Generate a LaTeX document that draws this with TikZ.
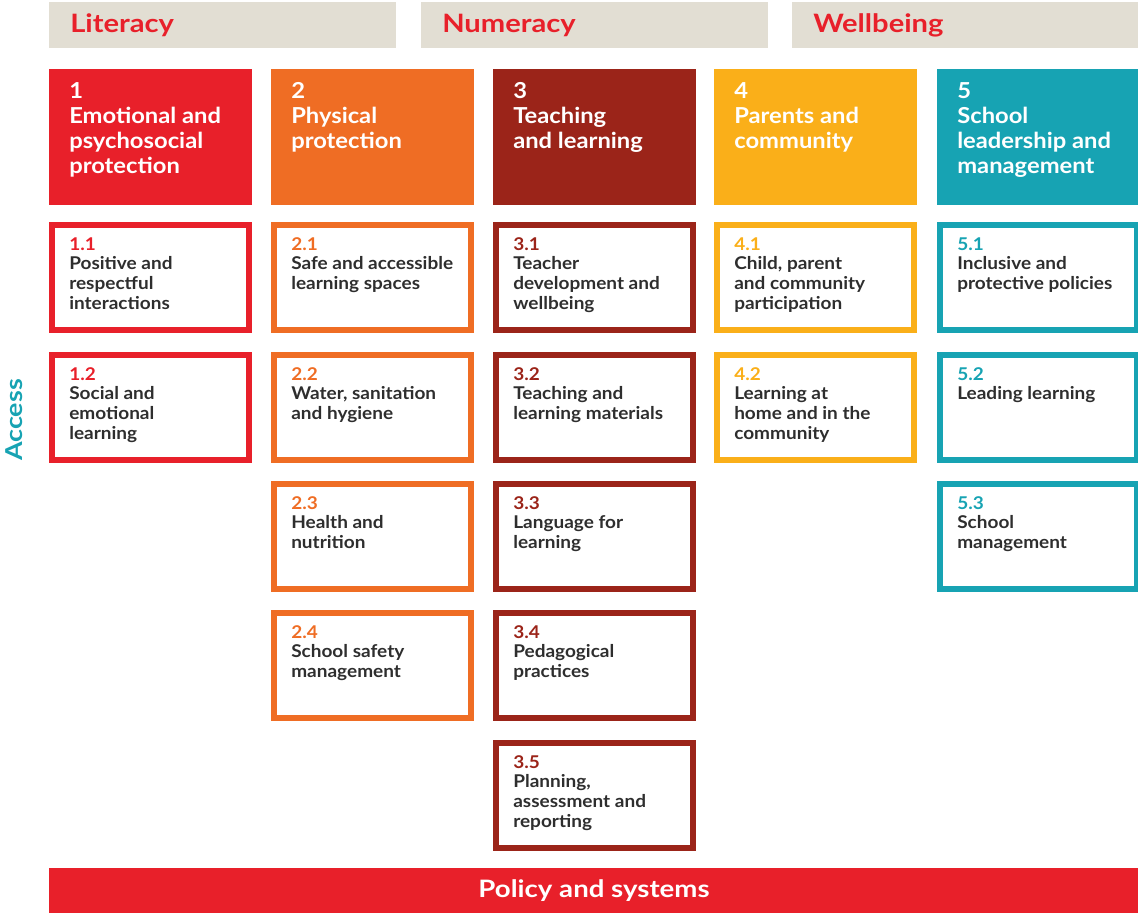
\documentclass[tikz,border=0pt]{standalone}
\usepackage{fontspec}
\setmainfont{Lato}[FakeStretch=1.08]
\newfontfamily\widefont{Lato}[FakeStretch=1.15]
\definecolor{colred}{HTML}{E8202A}
\definecolor{colorange}{HTML}{EF6D24}
\definecolor{coldark}{HTML}{9B2419}
\definecolor{colamber}{HTML}{FAAF19}
\definecolor{colteal}{HTML}{17A3B3}
\definecolor{colgray}{HTML}{E2DED3}
\definecolor{coltext}{HTML}{2E2E2E}
\newcommand{\headtext}[2]{\parbox[t]{150pt}{\raggedright\fontsize{16.5}{18.75}\selectfont #1\\#2}}
\newcommand{\subtext}[3]{\parbox[t]{150pt}{\raggedright\fontsize{13.2}{14.8}\selectfont\textcolor{#1}{#2}\\#3}}

\begin{document}
\begin{tikzpicture}[x=0.75pt,y=0.75pt,yscale=-1,xscale=1,
  frame/.style={line width=4.5pt},
  toplabel/.style={anchor=base west,inner sep=0pt,text=colred,font=\widefont\bfseries\fontsize{19}{22}\selectfont},
  headlabel/.style={anchor=base west,inner sep=0pt,text=white,font=\bfseries},
  sublabel/.style={anchor=base west,inner sep=0pt,text=coltext,font=\bfseries}]
\useasboundingbox (0,0) rectangle (1138,915);

%Shape: Rectangle (top bands)
\fill [colgray] (49,2) rectangle (396,48) ;
\fill [colgray] (421,2) rectangle (768,48) ;
\fill [colgray] (792,2) rectangle (1138,48) ;

%Shape: Rectangle (pillar heads)
\fill [colred] (49,69) rectangle (252,205) ;
\fill [colorange] (271,69) rectangle (474,205) ;
\fill [coldark] (493,69) rectangle (696,205) ;
\fill [colamber] (714,69) rectangle (917,205) ;
\fill [colteal] (937,69) rectangle (1140,205) ;

%Shape: Rectangle (column 1)
\draw [frame,colred] (52,225) rectangle (249,330) ;
\draw [frame,colred] (52,355) rectangle (249,460) ;
%Shape: Rectangle (column 2)
\draw [frame,colorange] (274,225) rectangle (471,330) ;
\draw [frame,colorange] (274,355) rectangle (471,460) ;
\draw [frame,colorange] (274,484) rectangle (471,589) ;
\draw [frame,colorange] (274,613) rectangle (471,718) ;
%Shape: Rectangle (column 3)
\draw [frame,coldark] (496,225) rectangle (693,330) ;
\draw [frame,coldark] (496,355) rectangle (693,460) ;
\draw [frame,coldark] (496,484) rectangle (693,589) ;
\draw [frame,coldark] (496,613) rectangle (693,718) ;
\draw [frame,coldark] (496,743) rectangle (693,848) ;
%Shape: Rectangle (column 4)
\draw [frame,colamber] (717,225) rectangle (914,330) ;
\draw [frame,colamber] (717,355) rectangle (914,460) ;
%Shape: Rectangle (column 5)
\draw [frame,colteal] (940,225) rectangle (1137,330) ;
\draw [frame,colteal] (940,355) rectangle (1137,460) ;
\draw [frame,colteal] (940,484) rectangle (1137,589) ;

%Shape: Rectangle (bottom bar)
\fill [colred] (49,868) rectangle (1138,913) ;

% Text Node
\draw (70,32) node (literacy) [toplabel] {Literacy};
% Text Node
\draw (442,32) node (numeracy) [toplabel] {Numeracy};
% Text Node
\draw (813,32) node (wellbeing) [toplabel] {Wellbeing};

% Text Node
\draw (69,98) node (head1) [headlabel] {\headtext{1}{Emotional and\\psychosocial\\protection}};
% Text Node
\draw (291,98) node (head2) [headlabel] {\headtext{2}{Physical\\protection}};
% Text Node
\draw (513,98) node (head3) [headlabel] {\headtext{3}{Teaching\\and learning}};
% Text Node
\draw (734,98) node (head4) [headlabel] {\headtext{4}{Parents and\\community}};
% Text Node
\draw (957,98) node (head5) [headlabel] {\headtext{5}{School\\leadership and\\management}};

% Text Node
\draw (69,250) node (sub11) [sublabel] {\subtext{colred}{1.1}{Positive and\\respectful\\interactions}};
% Text Node
\draw (69,380) node (sub12) [sublabel] {\subtext{colred}{1.2}{Social and\\emotional\\learning}};
% Text Node
\draw (291,250) node (sub21) [sublabel] {\subtext{colorange}{2.1}{Safe and accessible\\learning spaces}};
% Text Node
\draw (291,380) node (sub22) [sublabel] {\subtext{colorange}{2.2}{Water, sanitation\\and hygiene}};
% Text Node
\draw (291,509) node (sub23) [sublabel] {\subtext{colorange}{2.3}{Health and\\nutrition}};
% Text Node
\draw (291,638) node (sub24) [sublabel] {\subtext{colorange}{2.4}{School safety\\management}};
% Text Node
\draw (513,250) node (sub31) [sublabel] {\subtext{coldark}{3.1}{Teacher\\development and\\wellbeing}};
% Text Node
\draw (513,380) node (sub32) [sublabel] {\subtext{coldark}{3.2}{Teaching and\\learning materials}};
% Text Node
\draw (513,509) node (sub33) [sublabel] {\subtext{coldark}{3.3}{Language for\\learning}};
% Text Node
\draw (513,638) node (sub34) [sublabel] {\subtext{coldark}{3.4}{Pedagogical\\practices}};
% Text Node
\draw (513,768) node (sub35) [sublabel] {\subtext{coldark}{3.5}{Planning,\\assessment and\\reporting}};
% Text Node
\draw (734,250) node (sub41) [sublabel] {\subtext{colamber}{4.1}{Child, parent\\and community\\participation}};
% Text Node
\draw (734,380) node (sub42) [sublabel] {\subtext{colamber}{4.2}{Learning at\\home and in the\\community}};
% Text Node
\draw (957,250) node (sub51) [sublabel] {\subtext{colteal}{5.1}{Inclusive and\\protective policies}};
% Text Node
\draw (957,380) node (sub52) [sublabel] {\subtext{colteal}{5.2}{Leading learning}};
% Text Node
\draw (957,509) node (sub53) [sublabel] {\subtext{colteal}{5.3}{School\\management}};

% Text Node
\draw (14,420) node (access) [rotate=90,inner sep=0pt,text=colteal,font=\widefont\bfseries\fontsize{17.5}{20}\selectfont] {Access};
% Text Node
\draw (594,897) node (policy) [anchor=base,inner sep=0pt,text=white,font=\widefont\bfseries\fontsize{18}{20}\selectfont] {Policy and systems};

\end{tikzpicture}
\end{document}
